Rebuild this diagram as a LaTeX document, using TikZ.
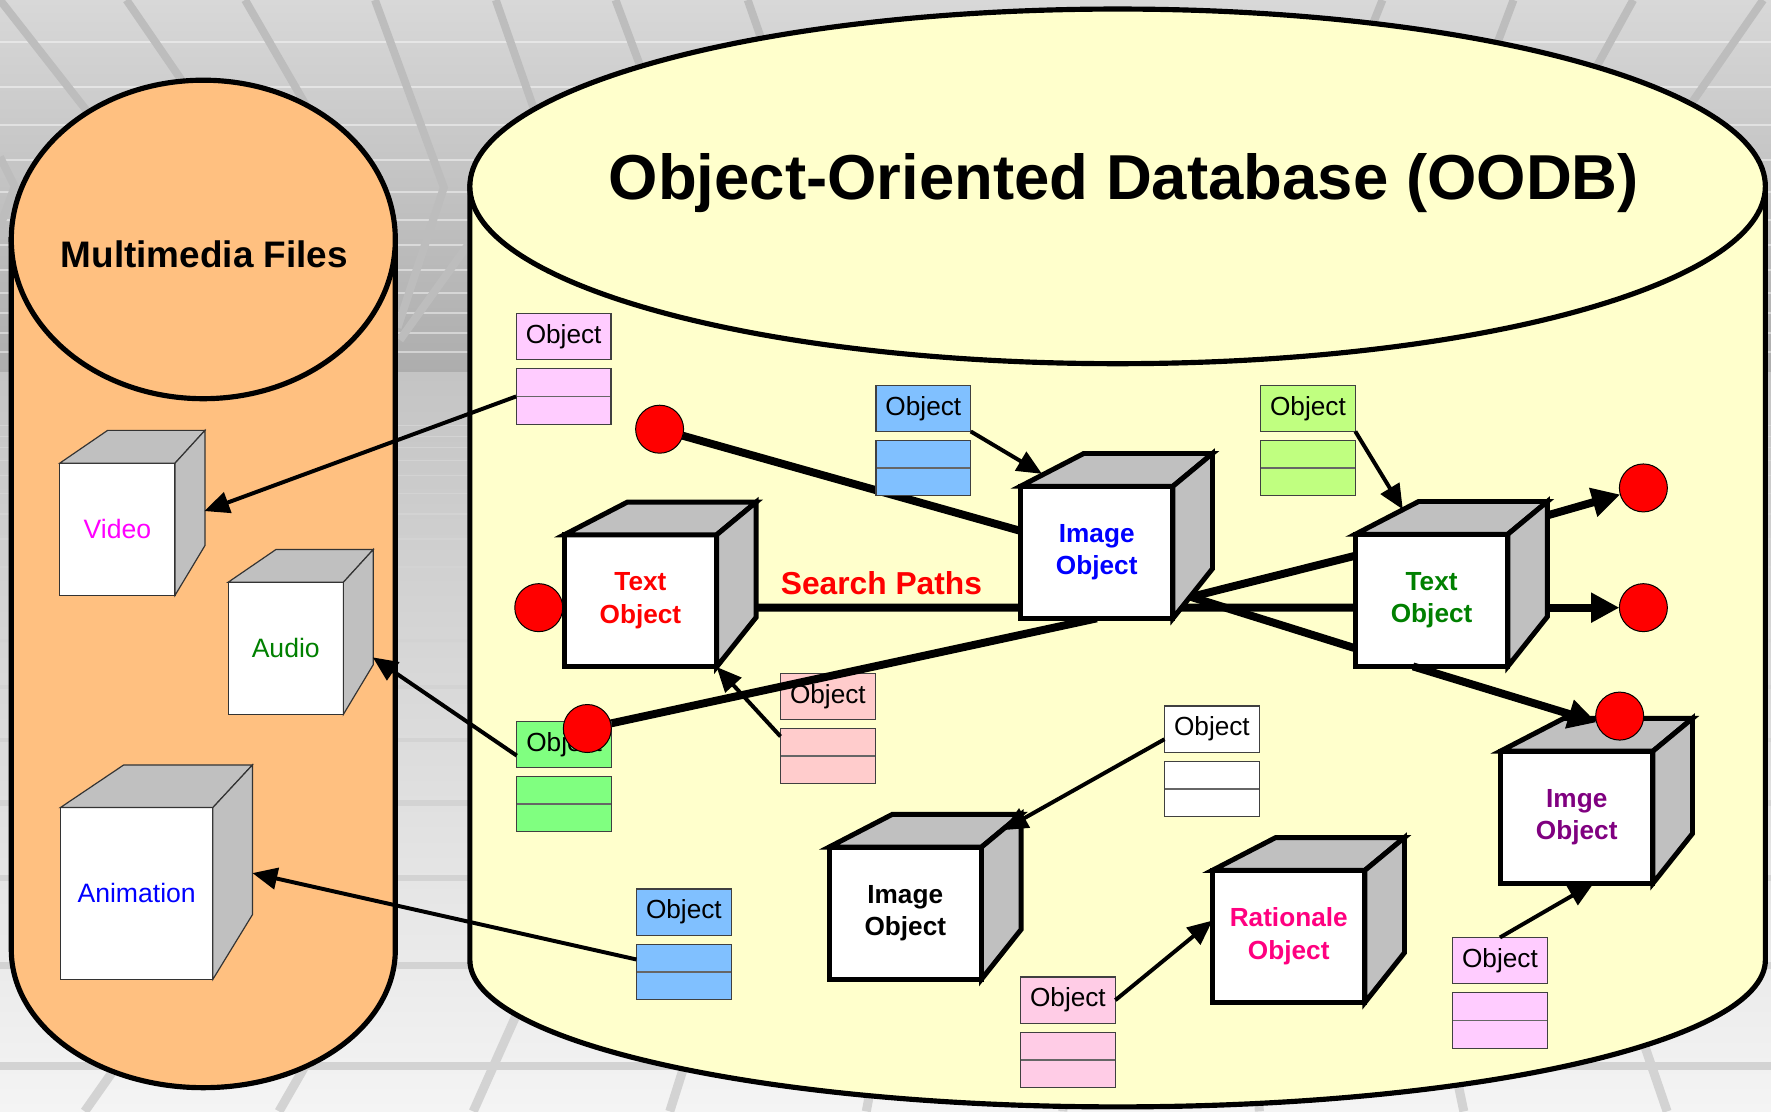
\documentclass[tikz,border=0pt]{standalone}
\usepackage{fontspec}
\setmainfont{Liberation Sans}
\usetikzlibrary{arrows.meta,positioning}
\definecolor{mediaorange}{HTML}{FFC080}
\definecolor{dbyellow}{HTML}{FFFFCC}
\definecolor{cubegray}{HTML}{C0C0C0}
\definecolor{clspink}{HTML}{FFCCFF}
\definecolor{clsrose}{HTML}{FFCCE6}
\definecolor{clssalmon}{HTML}{FFCCCC}
\definecolor{clsblue}{HTML}{80C0FF}
\definecolor{clslime}{HTML}{C0FF80}
\definecolor{clsgreen}{HTML}{80FF80}
\definecolor{txtmagenta}{HTML}{FF00FF}
\definecolor{txtgreen}{HTML}{008000}
\definecolor{txtpurple}{HTML}{800080}
\definecolor{txtrose}{HTML}{FF0080}
\definecolor{ceiltop}{HTML}{D8D8D8}
\definecolor{ceilbottom}{HTML}{ADADAD}
\definecolor{floortop}{HTML}{C4C4C4}
\definecolor{floorbottom}{HTML}{F4F4F4}
\definecolor{tileline}{HTML}{BDBDBD}
\definecolor{floorline}{HTML}{D3D3D3}

\pgfdeclarelayer{bg}
\pgfdeclarelayer{paths}
\pgfsetlayers{bg,paths,main}

% cube: style, name, centre of front, x-scale, y-scale, text
\newcommand{\objcube}[6]{%
    \node[#1, minimum width=#4*2.7cm, minimum height=#5*2.34cm] (#2) at (#3) {#6};
    \filldraw[#1, fill=cubegray] (#2.north west) -- ++(56*#4,-29*#5)
        -- ([shift={(35*#4,-29*#5)}]#2.north east) -- (#2.north east) -- cycle;
    \filldraw[#1, fill=cubegray] (#2.north east) -- ++(35*#4,-29*#5)
        -- ([shift={(35*#4,-44*#5)}]#2.south east) -- (#2.south east) -- cycle;
}

\begin{document}
\begin{tikzpicture}[x=0.02cm, y=-0.02cm,
        canbody/.style={draw=black, line width=2.6pt},
        dbcube/.style={draw=black, fill=white, line width=2.5pt, inner sep=0pt, outer sep=0pt,
            align=center, font=\bfseries\fontsize{13.2}{16.5}\selectfont},
        filecube/.style={draw=black!80, fill=white, line width=0.6pt, inner sep=0pt, outer sep=0pt,
            font=\fontsize{13.4}{16}\selectfont},
        clslabel/.style={draw=black!75, line width=0.6pt, minimum width=1.68cm, minimum height=0.82cm,
            inner sep=0pt, outer sep=0pt, font=\fontsize{13.2}{15}\selectfont},
        clsattr/.style={draw=black!75, line width=0.6pt, minimum width=1.68cm, minimum height=0.98cm,
            inner sep=0pt, outer sep=0pt,
            path picture={\draw[black!60, line width=0.8pt] (path picture bounding box.west) -- (path picture bounding box.east);}},
        reddot/.style={circle, draw=black, line width=0.5pt, fill=red, minimum size=0.85cm,
            inner sep=0pt, outer sep=0pt},
        searchpath/.style={line width=4pt},
        searcharrow/.style={searchpath, -{Triangle[length=0.5cm, width=0.5cm]}},
        link/.style={line width=2pt, -{Triangle[length=0.44cm, width=0.38cm]}}]
    \useasboundingbox (0,0) rectangle (1568,984);

    \begin{pgfonlayer}{bg}
        % ceiling and floor tiles
        \begin{scope}
            \clip (0,0) rectangle (1568,984);
            \shade[top color=ceiltop, bottom color=ceilbottom] (0,0) rectangle (1568,330);
            \shade[top color=floortop, bottom color=floorbottom] (0,330) rectangle (1568,984);
            \foreach \y in {37,77,111,142,170,195,217,239,259,277,295,312}{
                \draw[white, opacity=0.45, line width=1pt] (0,\y) -- (1568,\y);
            }
            \foreach \y in {377,386,396,408,421,437,455,477,502,532,567,608,655,711,777,855,944}{
                \draw[floorline, line width={(\y-330)*0.0024mm}] (0,\y) -- (1568,\y);
            }
            \foreach \xa/\xb/\yb in {0/130/166, 112/226/166, 217/313/166, 439/497/166,
                545/607/166, 662/720/166, 1224/1200/60, 1340/1310/80, 1446/1380/120, 1561/1450/160}{
                \draw[tileline, line width=0.14cm] (\xa,0) -- (\xb,\yb);
            }
            \draw[tileline, line width=0.14cm] (332,0) -- (393,166) -- (352,290);
            \draw[tileline, line width=0.14cm] (0,139) -- (13,165) -- (0,201);
            \draw[tileline, line width=0.14cm] (480,125) -- (354,301);
            \foreach \xb in {75,247,419,593,767,941,1115,1296,1476}{
                \draw[floorline, line width=0.16cm] (\xb,984) -- ({\xb+0.1*(1017-\xb)},850);
            }
        \end{scope}

        % multimedia files store
        \filldraw[canbody, fill=mediaorange] (10,212) -- (10,841)
            arc[start angle=180, end angle=0, x radius=170, y radius=122] -- (350,212) -- cycle;
        \filldraw[canbody, fill=mediaorange] (180,212) ellipse[x radius=170, y radius=141];
        \node[anchor=base, font=\bfseries\fontsize{18.6}{22}\selectfont] (filestitle) at (181,237) {Multimedia Files};

        % object-oriented database store
        \filldraw[canbody, fill=dbyellow] (416,165) -- (416,850)
            arc[start angle=180, end angle=0, x radius=573.5, y radius=130] -- (1563,165) -- cycle;
        \filldraw[canbody, fill=dbyellow] (989.5,165) ellipse[x radius=573.5, y radius=157];
        \node[anchor=base, font=\bfseries\fontsize{32}{38}\selectfont] (dbtitle) at (995,177) {Object-Oriented Database (OODB)};

        % class box lying under a search path
        \node[clslabel, fill=clssalmon] (objS) at (733,616.5) {Object};
        \node[clsattr, fill=clssalmon, below=0.16cm of objS] (attrS) {};
    \end{pgfonlayer}

    % class boxes
    \foreach \n/\x/\y/\col in {V/499/298/clspink, I/817.5/361.5/clsblue, T/1158/361.5/clslime,
        A/499.5/659/clsgreen, W/1073/645.5/white, N/605.5/807.5/clsblue,
        R/945.5/885.5/clsrose, P/1328/850.5/clspink}{
        \node[clslabel, fill=\col] (obj\n) at (\x,\y) {Object};
        \node[clsattr, fill=\col, below=0.16cm of obj\n] (attr\n) {};
    }

    % media files
    \objcube{filecube, text=txtmagenta}{video}{104,468.5}{0.756}{1}{Video}
    \objcube{filecube, text=txtgreen}{audio}{253,574}{0.756}{1}{Audio}
    \objcube{filecube, text=blue}{anim}{121,791}{1}{1.3}{Animation}

    % database objects
    \objcube{dbcube, text=red}{txtobj}{567,532}{1}{1}{Text\\Object}
    \objcube{dbcube, text=blue}{imgobj}{971,489}{1}{1}{Image\\Object}
    \objcube{dbcube, text=txtgreen}{txtobjb}{1267.5,531.5}{1}{1}{Text\\Object}
    \objcube{dbcube, text=txtpurple}{imgobjb}{1396,723.5}{1}{1}{Imge\\Object}
    \objcube{dbcube}{imgobjc}{801.5,808.5}{1}{1}{Image\\Object}
    \objcube{dbcube, text=txtrose}{ratobj}{1141,829}{1}{1}{Rationale\\Object}

    % end points of the paths
    \foreach \n/\x/\y in {A/584/380, B/477/538, C/520/645, D/1455/432, E/1455/538, F/1434/634}{
        \node[reddot] (dot\n) at (\x,\y) {};
    }

    \begin{pgfonlayer}{paths}
        % search paths
        \draw[searchpath] (dotA) -- (imgobj);
        \draw[searchpath] ([shift={(0,6)}]txtobj.east) -- ([shift={(0,6.5)}]txtobjb.west)
            node[pos=0.258, above=0.16cm, inner sep=0pt, text=red,
                font=\bfseries\fontsize{16}{19}\selectfont] (searchlbl) {Search Paths};
        \draw[searchpath] (dotC) -- (imgobj.south);
        \coordinate (imghub) at ([shift={(16,-19)}]imgobj.south east);
        \draw[searchpath] (imghub) -- ([shift={(0,-39.5)}]txtobjb.west);
        \draw[searchpath] (imghub) -- ([shift={(0,42.5)}]txtobjb.west);
        \draw[searcharrow] ([shift={(36,-17)}]txtobjb.north east) -- (dotD);
        \draw[searcharrow] (txtobjb.center |- dotE) -- (dotE);
    \end{pgfonlayer}
    \draw[searcharrow] ([shift={(-16.5,0)}]txtobjb.south) -- (dotF.195);

    % class boxes pointing at their objects
    \draw[link] (attrV.west) -- ([shift={(26,-16)}]video.east);
    \draw[link] ([shift={(0,10)}]objA.west) -- ([shift={(26,8)}]audio.east);
    \draw[link] ([shift={(0,-11)}]attrN.west) -- ([shift={(35,-18)}]anim.east);
    \draw[link] (objI.south east) -- ([shift={(19,-11)}]imgobj.north west);
    \draw[link] (objT.south east) -- ([shift={(42,-22)}]txtobjb.north west);
    \draw[link] ([shift={(0,7)}]attrS.north west) -- (txtobj.south east);
    \draw[link] ([shift={(0,9)}]objW.west) -- ([shift={(19,-15)}]imgobjc.north east);
    \draw[link] (objR.east) -- ([shift={(0,-14)}]ratobj.west);
    \draw[link] (objP.north) -- ([shift={(15,0)}]imgobjb.south);
\end{tikzpicture}
\end{document}
